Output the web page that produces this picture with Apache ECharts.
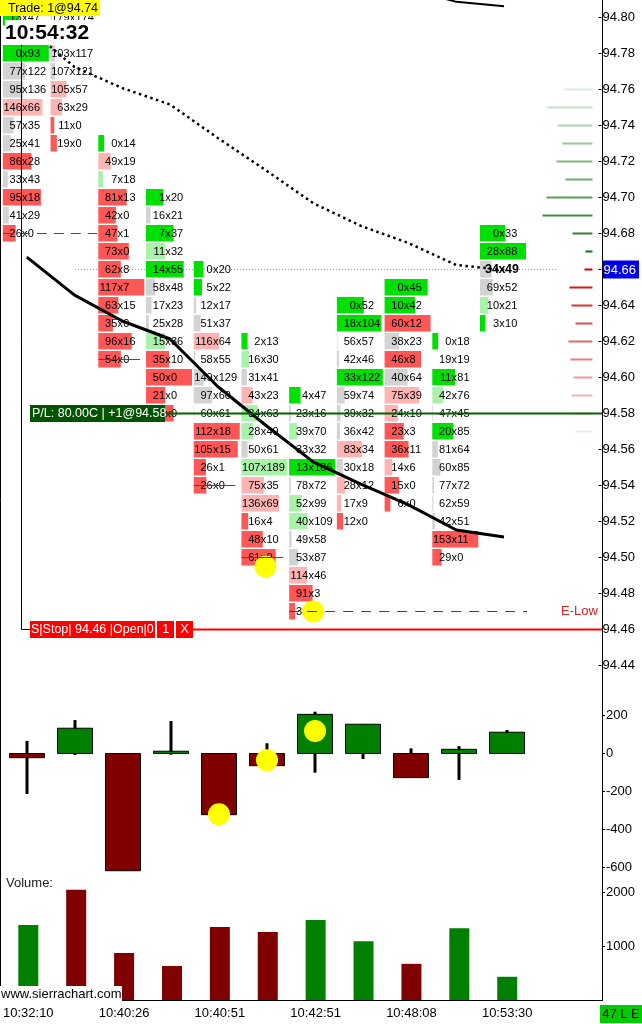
<!DOCTYPE html>
<html>
<head>
<meta charset="utf-8">
<script src="https://cdn.jsdelivr.net/npm/echarts@6.0.0/dist/echarts.min.js"></script>
<style>
html,body{margin:0;padding:0;background:#fff;}
#chart{width:642px;height:1024px;}
</style>
</head>
<body>
<div id="chart"></div>
<script>
// ------------------------------------------------------------------ data
const timeLabelBars = [0, 2, 4, 6, 8, 10];
const timeLabels = ['10:32:10', '10:40:26', '10:40:51', '10:42:51', '10:48:08', '10:53:30'];
const priceTicks = [94.44, 94.46, 94.48, 94.50, 94.52, 94.54, 94.56, 94.58, 94.60, 94.62,
                    94.64, 94.66, 94.68, 94.70, 94.72, 94.74, 94.76, 94.78, 94.80];
const deltaTicks = [-600, -400, -200, 0, 200];
const volumeTicks = [1000, 2000];

// footprint: top price of each bar, then bid / ask per row going down 1 tick (null = hidden row)
const fpTop = [94.80, 94.80, 94.73, 94.70, 94.66, 94.62, 94.59, 94.64, 94.65, 94.62, 94.68];
const fpBid = [
  [13, null, 0, 77, 95, 146, 57, 25, 86, 33, 95, 41, 26],
  [179, null, 103, 107, 105, 63, 11, 19],
  [0, 49, 7, 81, 42, 47, 73, 62, 117, 63, 35, 96, 54],
  [1, 16, 7, 11, 14, 58, 17, 25, 15, 35, 50, 21, 30],
  [0, 5, 12, 51, 116, 58, 149, 97, 60, 112, 105, 26, 26],
  [2, 16, 31, 43, 34, 28, 50, 107, 75, 136, 16, 48, 61],
  [4, 23, 39, 33, 13, 78, 52, 40, 49, 53, 114, 91, 30],
  [0, 18, 56, 42, 33, 59, 39, 36, 83, 30, 28, 17, 12],
  [0, 10, 60, 38, 46, 40, 75, 24, 23, 36, 14, 15, 6],
  [0, 19, 11, 42, 47, 20, 81, 60, 77, 62, 42, 153, 29],
  [0, 28, 34, 69, 10, 3]
];
const fpAsk = [
  [47, null, 93, 122, 136, 66, 35, 41, 28, 43, 18, 29, 0],
  [174, null, 117, 121, 57, 29, 0, 0],
  [14, 19, 18, 13, 0, 1, 0, 8, 7, 15, 0, 16, 0],
  [20, 21, 37, 32, 55, 48, 23, 28, 36, 10, 0, 0, 0],
  [20, 22, 17, 37, 64, 55, 129, 60, 61, 18, 15, 1, 0],
  [13, 30, 41, 23, 63, 49, 61, 189, 35, 69, 4, 10, 0],
  [47, 16, 70, 32, 186, 72, 99, 109, 58, 87, 46, 3, 8],
  [52, 104, 57, 46, 122, 74, 32, 42, 34, 18, 12, 9, 0],
  [45, 42, 12, 23, 8, 64, 39, 10, 3, 11, 6, 0, 0],
  [18, 19, 81, 76, 45, 85, 64, 85, 72, 59, 51, 11, 0],
  [33, 88, 49, 52, 21, 10]
];
// delta that fills a full cell width in each bar
const deltaScaleMax = [93, 138, 110, 50, 94, 82, 173, 89, 48, 142, 60];
const lastPrice = 94.66;
const lastBar = 10;

const maLine = [94.6669, 94.6458, 94.6314, 94.6214, 94.5950, 94.5736, 94.5531, 94.5408, 94.5292, 94.5153, 94.5114];
const dottedLine = [94.7947, 94.7725, 94.7608, 94.7517, 94.7331, 94.7153, 94.6969, 94.6842, 94.6747, 94.6625, 94.6597];
const upperLineBars = [8, 9, 10];
const upperLineVals = [94.8160, 94.8087, 94.8062];

const domAskPrices = [94.67, 94.68, 94.69, 94.70, 94.71, 94.72, 94.73, 94.74, 94.75, 94.76];
const domAskSize   = [7, 20, 50, 46, 27, 36, 30, 35, 45, 28];
const domBidPrices = [94.66, 94.65, 94.64, 94.63, 94.62, 94.61, 94.60, 94.59, 94.58, 94.57];
const domBidSize   = [8, 23, 21, 17, 24, 22, 19, 21, 20, 17];

const deltaClose = [-22, 133, -617, 12, -322, -64, 206, 154, -127, 22, 112];
const deltaHigh  = [66, 176, 0, 171, 0, 54, 220, 154, 27, 39, 124];
const deltaLow   = [-213, -8, -617, -6, -322, -64, -101, -29, -127, -139, 0];

const volume     = [1390, 2040, 870, 630, 1350, 1260, 1480, 1090, 670, 1330, 430];
const priceBarUp = [true, false, false, false, false, false, true, true, false, true, true];

const tradeMarksPrice = [[5, 94.495], [6, 94.47]];
const tradeMarksDelta = [[4, -320], [5, -35], [6, 118]];

// [bar, low price, bar where it is revisited (null = never)]
const lowLines = [[0, 94.68, 2], [2, 94.61, 3], [4, 94.54, 5], [5, 94.50, 6], [6, 94.47, null]];
const plPrice = 94.58;
const stopPrice = 94.46;

// ------------------------------------------------------------------ layout
const FONT = '"Liberation Sans", Arial, sans-serif';
const PLOT_W = 602;
const COL_PX = 48;
const X_MIN = -27 / COL_PX;
const X_MAX = X_MIN + PLOT_W / COL_PX;
const MAIN_H = 680;
const PX_PER_PRICE = 1800;
const P_MAX = 94.80 + 17.5 / PX_PER_PRICE;
const P_MIN = P_MAX - MAIN_H / PX_PER_PRICE;

const chart = echarts.init(document.getElementById('chart'), null, {width: 642, height: 1024});

function cellColor(bid, ask) {
  if (bid === ask) return '#D3D3D3';
  const big = Math.max(bid, ask), small = Math.min(bid, ask);
  const ratio = small === 0 ? Infinity : big / small;
  if (ask > bid) return ratio >= 3 ? '#00E000' : ratio >= 1.7 ? '#AAF2AA' : '#D3D3D3';
  return ratio >= 3 ? '#FF5656' : ratio >= 1.7 ? '#FFB4B4' : '#D3D3D3';
}

const fpData = [];
fpTop.forEach((top, c) => {
  fpBid[c].forEach((b, r) => {
    if (b === null) return;
    const p = Math.round((top - r * 0.01) * 100) / 100;
    fpData.push([c, p, b, fpAsk[c][r], deltaScaleMax[c]]);
  });
});

function renderCell(params, api) {
  const c = api.value(0), p = api.value(1), bid = api.value(2), ask = api.value(3), sc = api.value(4);
  const pt = api.coord([c, p]);
  const left = pt[0] - 24;
  const w = Math.min(46, Math.abs(ask - bid) / sc * 46);
  const isLast = c === lastBar && Math.abs(p - lastPrice) < 1e-6;
  const ts = {fontSize: isLast ? 12.5 : 11, fontWeight: isLast ? 'bold' : 'normal', fontFamily: FONT, fill: '#000', verticalAlign: 'middle'};
  return {
    type: 'group',
    children: [
      {type: 'rect', shape: {x: left, y: pt[1] - 8.5, width: w, height: 16.5}, style: {fill: cellColor(bid, ask)}},
      {type: 'text', style: Object.assign({x: pt[0] - 5, y: pt[1], text: String(bid), align: 'right'}, ts)},
      {type: 'text', style: Object.assign({x: pt[0] - 2, y: pt[1], text: 'x', align: 'center'}, ts)},
      {type: 'text', style: Object.assign({x: pt[0] + 1, y: pt[1], text: String(ask), align: 'left'}, ts)}
    ]
  };
}

const domData = [];
domAskPrices.forEach((p, i) => domData.push([p, domAskSize[i], 0, i]));
domBidPrices.forEach((p, i) => domData.push([p, domBidSize[i], 1, i]));
function renderDom(params, api) {
  const p = api.value(0), size = api.value(1), side = api.value(2), dist = api.value(3);
  const y = api.coord([X_MAX, p]);
  const x2 = y[0] - 6;
  const color = side === 0 ? `rgba(20,118,20,${Math.max(0.1, 1 - dist * 0.095)})`
                           : `rgba(212,0,0,${Math.max(0.1, 1 - dist * 0.1)})`;
  return {type: 'line', shape: {x1: x2 - size, y1: y[1], x2: x2, y2: y[1]}, style: {stroke: color, lineWidth: 2}};
}

const candleData = deltaClose.map((v, i) => [i, v, deltaHigh[i], deltaLow[i]]);
function renderCandle(params, api) {
  const i = api.value(0), cl = api.value(1), hi = api.value(2), lo = api.value(3);
  const p0 = api.coord([i, 0]), pc = api.coord([i, cl]), ph = api.coord([i, hi]), pl = api.coord([i, lo]);
  const x = p0[0];
  const top = Math.min(p0[1], pc[1]);
  const h = Math.max(1, Math.abs(pc[1] - p0[1]));
  return {
    type: 'group',
    children: [
      {type: 'rect', shape: {x: x - 1.5, y: ph[1], width: 3, height: pl[1] - ph[1]}, style: {fill: '#000'}},
      {type: 'rect', shape: {x: x - 17.5, y: top, width: 35, height: h},
       style: {fill: cl >= 0 ? '#008000' : '#800000', stroke: '#000', lineWidth: 1}}
    ]
  };
}

const volData = volume.map((v, i) => [i, v, priceBarUp[i] ? 1 : 0]);
function renderVol(params, api) {
  const i = api.value(0), v = api.value(1), up = api.value(2);
  const pt = api.coord([i, v]), p0 = api.coord([i, 0]);
  return {type: 'rect', shape: {x: pt[0] - 10, y: pt[1], width: 20, height: p0[1] - pt[1]},
          style: {fill: up ? '#008000' : '#800000'}};
}

const axisLabelBase = {color: '#000', fontSize: 13, fontFamily: FONT, margin: 4};
const tickBase = {show: true, length: 3, lineStyle: {color: '#000'}};
const yLine = {show: false, onZero: false};

const option = {
  animation: false,
  backgroundColor: '#fff',
  grid: [
    {left: 0, top: 0, width: PLOT_W, height: MAIN_H},
    {left: 0, top: 753.5 - 400 * 0.19, width: PLOT_W, height: 1200 * 0.19},
    {left: 0, top: 1000 - 2500 * 0.054, width: PLOT_W, height: 2500 * 0.054}
  ],
  xAxis: [
    {type: 'value', gridIndex: 0, min: X_MIN, max: X_MAX, show: false},
    {type: 'value', gridIndex: 1, min: X_MIN, max: X_MAX, show: false},
    {type: 'value', gridIndex: 2, min: X_MIN, max: X_MAX, splitLine: {show: false},
     axisLine: {show: true, onZero: false, lineStyle: {color: '#000', width: 1}},
     axisTick: {show: false},
     axisLabel: {customValues: timeLabelBars, color: '#000', fontSize: 13, fontFamily: FONT, margin: 7,
                 formatter: v => timeLabels[timeLabelBars.indexOf(Math.round(v))] || ''}}
  ],
  yAxis: [
    {type: 'value', gridIndex: 0, position: 'right', min: P_MIN, max: P_MAX, splitLine: {show: false},
     axisLine: yLine,
     axisTick: Object.assign({customValues: priceTicks}, tickBase),
     axisLabel: Object.assign({}, axisLabelBase, {
       customValues: priceTicks,
       formatter: v => Math.abs(v - lastPrice) < 1e-6 ? '{hl|' + v.toFixed(2) + '}' : v.toFixed(2),
       rich: {hl: {backgroundColor: '#0000F0', color: '#fff', fontSize: 13, fontFamily: FONT, padding: [3, 3, 2, 1]}}
     })},
    {type: 'value', gridIndex: 1, position: 'right', min: -800, max: 400, splitLine: {show: false},
     axisLine: yLine,
     axisTick: Object.assign({customValues: deltaTicks}, tickBase),
     axisLabel: Object.assign({}, axisLabelBase, {customValues: deltaTicks, formatter: v => String(Math.round(v))})},
    {type: 'value', gridIndex: 2, position: 'right', min: 0, max: 2500, splitLine: {show: false},
     axisLine: yLine,
     axisTick: Object.assign({customValues: volumeTicks}, tickBase),
     axisLabel: Object.assign({}, axisLabelBase, {customValues: volumeTicks, formatter: v => String(Math.round(v))})}
  ],
  series: [
    {type: 'custom', xAxisIndex: 0, yAxisIndex: 0, data: domData, renderItem: renderDom, clip: true, z: 2, silent: true},
    {type: 'custom', xAxisIndex: 0, yAxisIndex: 0, data: fpData, renderItem: renderCell, clip: true, z: 3, silent: true},
    {type: 'line', xAxisIndex: 0, yAxisIndex: 0, data: dottedLine.map((v, i) => [i, v]), symbol: 'none',
     lineStyle: {color: '#000', width: 2.5, type: [2.5, 3.5]}, z: 4, silent: true},
    {type: 'line', xAxisIndex: 0, yAxisIndex: 0, data: maLine.map((v, i) => [i, v]), symbol: 'none',
     lineStyle: {color: '#000', width: 3}, z: 4, silent: true},
    {type: 'line', xAxisIndex: 0, yAxisIndex: 0, data: upperLineBars.map((b, i) => [b, upperLineVals[i]]), symbol: 'none',
     lineStyle: {color: '#000', width: 2}, z: 4, clip: true, silent: true},
    {type: 'scatter', xAxisIndex: 0, yAxisIndex: 0, data: tradeMarksPrice, symbol: 'circle', symbolSize: 22,
     itemStyle: {color: '#FFFF00', opacity: 1}, z: 20, silent: true},
    {type: 'custom', xAxisIndex: 1, yAxisIndex: 1, data: candleData, renderItem: renderCandle, z: 3, silent: true},
    {type: 'scatter', xAxisIndex: 1, yAxisIndex: 1, data: tradeMarksDelta, symbol: 'circle', symbolSize: 22,
     itemStyle: {color: '#FFFF00', opacity: 1}, z: 20, silent: true},
    {type: 'custom', xAxisIndex: 2, yAxisIndex: 2, data: volData, renderItem: renderVol, z: 3, silent: true}
  ]
};
chart.setOption(option);

// ------------------------------------------------------------------ overlays (positions from the axes)
const py = p => chart.convertToPixel({gridIndex: 0}, [0, p])[1];
const colLeft = c => chart.convertToPixel({gridIndex: 0}, [c, P_MAX])[0] - 24;
const txt = (x, y, text, extra) => ({type: 'text', z: 60,
  style: Object.assign({x, y, text, fill: '#000', fontSize: 13, fontFamily: FONT, verticalAlign: 'middle', align: 'left'}, extra || {})});
const rect = (x, y, w, h, fill, z) => ({type: 'rect', z: z || 55, shape: {x, y, width: w, height: h}, style: {fill}});
const hline = (x1, x2, y, stroke, w, dash, z) => ({type: 'line', z: z || 50,
  shape: {x1, y1: y, x2, y2: y}, style: {stroke, lineWidth: w, lineDash: dash || null}});

const yPL = py(plPrice), yStop = py(stopPrice), yLast = py(lastPrice);
const g = [];
// last price dotted line (beneath cells)
g.push(hline(75, 556, yLast, '#22C8E6', 1, [1, 2], 1));
// low lines
lowLines.forEach(([c, p, end]) => {
  const y = py(p);
  const x1 = colLeft(c);
  if (end !== null) {
    const dashed = end - c > 1;
    g.push(hline(x1, colLeft(end) - (dashed ? 1 : 6), y, '#FF0000', 1, dashed ? [10, 7] : null, 40));
  } else {
    g.push(hline(x1, 527, y, '#E00000', 1, [10, 8], 40));
    g.push(txt(561, y, 'E-Low', {fill: '#D02020'}));
  }
});
// P/L line
g.push(hline(165, PLOT_W, yPL, '#006400', 2, null, 50));
g.push(rect(30, yPL - 8.5, 135, 17, '#005400'));
g.push(txt(32, yPL, 'P/L: 80.00C | +1@94.58', {fill: '#fff', fontSize: 12.5}));
// Stop order line
g.push(hline(193, PLOT_W, yStop, '#FF0000', 2, null, 50));
g.push(rect(30, yStop - 8.5, 125, 17, '#FF0000'));
g.push(rect(157, yStop - 8.5, 17, 17, '#FF0000'));
g.push(rect(176, yStop - 8.5, 17, 17, '#FF0000'));
g.push(txt(31, yStop, 'S|Stop| 94.46 |Open|0', {fill: '#fff', fontSize: 12.5}));
g.push(txt(165.5, yStop, '1', {fill: '#fff', align: 'center'}));
g.push(txt(184.5, yStop, 'X', {fill: '#fff', align: 'center'}));
g.push({type: 'polyline', z: 50, shape: {points: [[21.5, 45], [21.5, yStop], [30, yStop]]}, style: {stroke: '#000', lineWidth: 1, fill: null}});
// header labels
g.push(rect(0, 0, 100, 16, '#FFFF00'));
g.push(txt(8, 8.5, 'Trade: 1@94.74', {fontSize: 12.5}));
g.push(rect(5, 20, 94, 25, '#FFFFFF'));
g.push(txt(5, 33, '10:54:32', {fontSize: 21, fontWeight: 'bold'}));
// frame
g.push({type: 'line', z: 45, shape: {x1: 0.5, y1: 0, x2: 0.5, y2: 1001}, style: {stroke: '#000', lineWidth: 1}});
g.push({type: 'line', z: 45, shape: {x1: 602.5, y1: 0, x2: 602.5, y2: 1001}, style: {stroke: '#000', lineWidth: 1}});
// volume panel texts
g.push(txt(6, 883, 'Volume:', {fill: '#222'}));
g.push(rect(0, 986, 122, 16, '#FFFFFF'));
g.push(txt(1, 994.5, 'www.sierrachart.com'));
g.push(rect(600, 1005, 42, 18, '#00CC00'));
g.push(txt(621, 1014, '47 L E', {align: 'center'}));

chart.setOption({graphic: {elements: g}});
</script>
</body>
</html>
